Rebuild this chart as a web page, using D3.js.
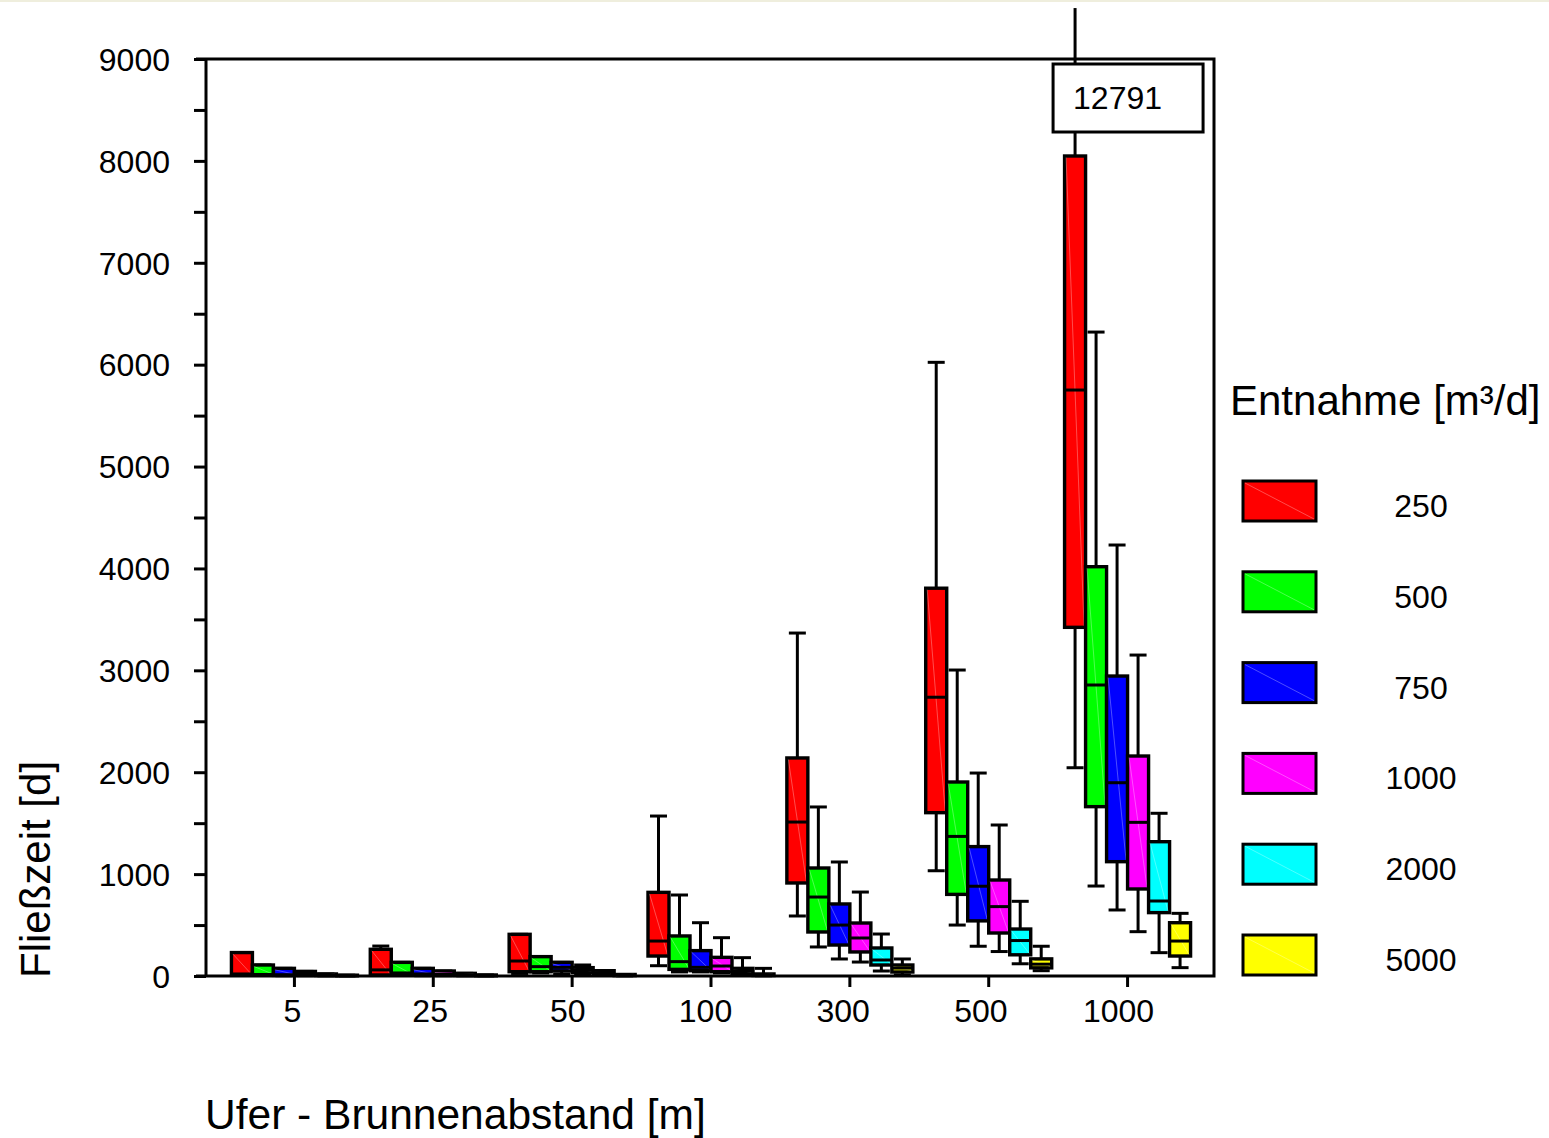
<!DOCTYPE html>
<html>
<head>
<meta charset="utf-8">
<script src="https://cdn.jsdelivr.net/npm/d3@7"></script>
<style>
  html, body { margin: 0; padding: 0; background: #ffffff; }
  svg { display: block; }
  text { font-family: "Liberation Sans", Arial, Helvetica, sans-serif; fill: #000; }
</style>
</head>
<body>
<svg id="chart" width="1549" height="1138"></svg>
<script>
// ---------- data ----------
const categories = ["5", "25", "50", "100", "300", "500", "1000"];
const seriesNames = ["250", "500", "750", "1000", "2000", "5000"];
const seriesColors = ["#ff0000", "#00ff00", "#0000ff", "#ff00ff", "#00ffff", "#ffff00"];
const yTickValues = [0, 1000, 2000, 3000, 4000, 5000, 6000, 7000, 8000, 9000];
// each entry: [lowerWhisker, q1, median, q3, upperWhisker]
const box250 = [[5, 8, 20, 230, 230], [5, 10, 60, 262, 294], [25, 42, 147, 409, 409], [101, 196, 343, 821, 1570], [589, 913, 1511, 2140, 3366], [1033, 1603, 2736, 3806, 6023], [2044, 3422, 5751, 8048, 12791]];
const box500 = [[5, 8, 15, 108, 108], [5, 10, 30, 134, 134], [30, 42, 92, 190, 190], [40, 65, 141, 393, 795], [285, 432, 775, 1060, 1659], [500, 801, 1370, 1904, 3003], [883, 1662, 2856, 4017, 6320]];
const box750 = [[3, 6, 12, 75, 75], [3, 8, 20, 75, 75], [20, 50, 85, 134, 134], [40, 52, 85, 249, 523], [167, 304, 500, 707, 1119], [292, 541, 881, 1270, 1992], [648, 1122, 1897, 2944, 4230]];
const box1000 = [[3, 15, 25, 45, 45], [3, 8, 15, 49, 49], [20, 35, 59, 82, 108], [30, 42, 98, 183, 376], [137, 236, 373, 520, 824], [240, 422, 681, 942, 1482], [435, 854, 1508, 2159, 3150]];
const box2000 = [[2, 4, 8, 20, 20], [2, 5, 10, 26, 26], [8, 16, 33, 52, 52], [15, 23, 50, 75, 180], [49, 108, 157, 275, 412], [120, 208, 348, 461, 733], [229, 622, 736, 1318, 1597]];
const box5000 = [[1, 2, 4, 8, 8], [1, 2, 5, 10, 10], [2, 4, 8, 15, 15], [3, 5, 10, 20, 75], [10, 39, 78, 108, 167], [52, 80, 116, 168, 292], [82, 196, 343, 523, 615]];
const boxData = [box250, box500, box750, box1000, box2000, box5000];
const xTitle = "Ufer - Brunnenabstand [m]";
const yTitle = "Fließzeit [d]";
const legendTitle = "Entnahme [m³/d]";

// ---------- layout ----------
const svg = d3.select("#chart");
const frame = { left: 206, right: 1214, top: 59, bottom: 976 };
const yMax = 9000, yClip = 9500;

svg.append("rect").attr("x", 0).attr("y", 0).attr("width", 1549).attr("height", 2).attr("fill", "#efeedd");

const y = d3.scaleLinear().domain([0, yMax]).range([frame.bottom, frame.top]);
const x = d3.scaleBand().domain(categories).range([225, 1197]).paddingInner(0).paddingOuter(0);
const xLabel = d3.scalePoint().domain(categories).range([292, 1118]);
const inner = d3.scaleBand().domain(seriesNames).range([-63, 63]);
const color = d3.scaleOrdinal().domain(seriesNames).range(seriesColors);

// ---------- axes ----------
const yAxis = d3.axisLeft(y)
  .tickValues(d3.range(0, yMax + 1, 500))
  .tickSize(12)
  .tickPadding(24)
  .tickFormat(d => (yTickValues.includes(d) ? d : ""));
const gy = svg.append("g").attr("transform", `translate(${frame.left},1)`).call(yAxis);
gy.select(".domain").remove();
gy.selectAll(".tick line").attr("stroke", "#000").attr("stroke-width", 3).attr("transform", "translate(0,-1)");
gy.selectAll(".tick text").attr("font-size", 32).attr("font-family", '"Liberation Sans", Arial, sans-serif').attr("fill", "#000");

const xAxis = d3.axisBottom(x).tickSize(11).tickFormat("");
const gx = svg.append("g").attr("transform", `translate(0,${frame.bottom})`).call(xAxis);
gx.select(".domain").remove();
gx.selectAll(".tick line").attr("stroke", "#000").attr("stroke-width", 3);

const xAxisLabels = d3.axisBottom(xLabel).tickSize(0).tickPadding(23);
const gxl = svg.append("g").attr("transform", `translate(0,${frame.bottom})`).call(xAxisLabels);
gxl.select(".domain").remove();
gxl.selectAll(".tick text").attr("font-size", 32).attr("font-family", '"Liberation Sans", Arial, sans-serif').attr("fill", "#000");

// frame
svg.append("path")
  .attr("d", `M${frame.left - 10},${frame.top} H${frame.right} V${frame.bottom} H${frame.left - 10} M${frame.left},${frame.top} V${frame.bottom}`)
  .attr("fill", "none").attr("stroke", "#000").attr("stroke-width", 3);

// ---------- boxes ----------
const bw = inner.bandwidth();
const capW = 17;
const flat = [];
seriesNames.forEach((s, si) => {
  boxData[si].forEach((v, ci) => {
    flat.push({ s, cat: categories[ci], lo: v[0], q1: v[1], med: v[2], q3: v[3], hi: v[4] });
  });
});

const g = svg.append("g");
const items = g.selectAll("g.box").data(flat).join("g").attr("class", "box")
  .attr("transform", d => `translate(${x(d.cat) + x.bandwidth() / 2 + inner(d.s)},0)`);

// whiskers
items.append("line")
  .attr("x1", bw / 2).attr("x2", bw / 2)
  .attr("y1", d => y(d.q3)).attr("y2", d => y(Math.min(d.hi, yClip)))
  .attr("stroke", "#000").attr("stroke-width", 3);
items.append("line")
  .attr("x1", bw / 2).attr("x2", bw / 2)
  .attr("y1", d => y(d.q1)).attr("y2", d => y(d.lo))
  .attr("stroke", "#000").attr("stroke-width", 3);
items.filter(d => d.hi <= yMax).append("line")
  .attr("x1", bw / 2 - capW / 2).attr("x2", bw / 2 + capW / 2)
  .attr("y1", d => y(d.hi)).attr("y2", d => y(d.hi))
  .attr("stroke", "#000").attr("stroke-width", 3);
items.append("line")
  .attr("x1", bw / 2 - capW / 2).attr("x2", bw / 2 + capW / 2)
  .attr("y1", d => y(d.lo)).attr("y2", d => y(d.lo))
  .attr("stroke", "#000").attr("stroke-width", 3);

// box
items.append("rect")
  .attr("x", 0).attr("width", bw)
  .attr("y", d => y(d.q3)).attr("height", d => Math.max(0, y(d.q1) - y(d.q3)))
  .attr("fill", d => color(d.s)).attr("stroke", "#000").attr("stroke-width", 3.4);
// faint diagonal streak
items.append("line")
  .attr("x1", 1.5).attr("y1", d => y(d.q3) + 1.5)
  .attr("x2", bw - 1.5).attr("y2", d => y(d.q1) - 1.5)
  .attr("stroke", "#ffffff").attr("stroke-opacity", 0.3).attr("stroke-width", 1);
// median
items.append("line")
  .attr("x1", 0).attr("x2", bw)
  .attr("y1", d => y(d.med)).attr("y2", d => y(d.med))
  .attr("stroke", "#000").attr("stroke-width", 3);

// out-of-range label
const over = flat.filter(d => d.hi > yMax);
const ol = svg.append("g").selectAll("g").data(over).join("g")
  .attr("transform", d => `translate(${x(d.cat) + x.bandwidth() / 2 + inner(d.s) + bw / 2 - 22},${y(yMax) + 5})`);
ol.append("rect").attr("width", 150).attr("height", 68).attr("fill", "#fff").attr("stroke", "#000").attr("stroke-width", 3);
ol.append("text").attr("x", 20).attr("y", 45).attr("font-size", 32).text(d => d.hi);

// ---------- titles ----------
svg.append("text").attr("x", 205).attr("y", 1129).attr("font-size", 42.5).text(xTitle);
svg.append("text").attr("transform", "translate(50,978) rotate(-90)").attr("font-size", 42).text(yTitle);

// ---------- legend ----------
svg.append("text").attr("x", 1230).attr("y", 415).attr("font-size", 42).text(legendTitle);
const legY = d3.scalePoint().domain(seriesNames).range([481, 935]);
const leg = svg.append("g").selectAll("g").data(seriesNames).join("g")
  .attr("transform", d => `translate(1243,${legY(d)})`);
leg.append("rect").attr("width", 73).attr("height", 40).attr("fill", d => color(d)).attr("stroke", "#000").attr("stroke-width", 3);
leg.append("line").attr("x1", 2).attr("y1", 2).attr("x2", 71).attr("y2", 38)
  .attr("stroke", "#fff").attr("stroke-opacity", 0.3).attr("stroke-width", 1);
leg.append("text").attr("x", 178).attr("y", 36).attr("text-anchor", "middle").attr("font-size", 32).text(d => d);
</script>
</body>
</html>
